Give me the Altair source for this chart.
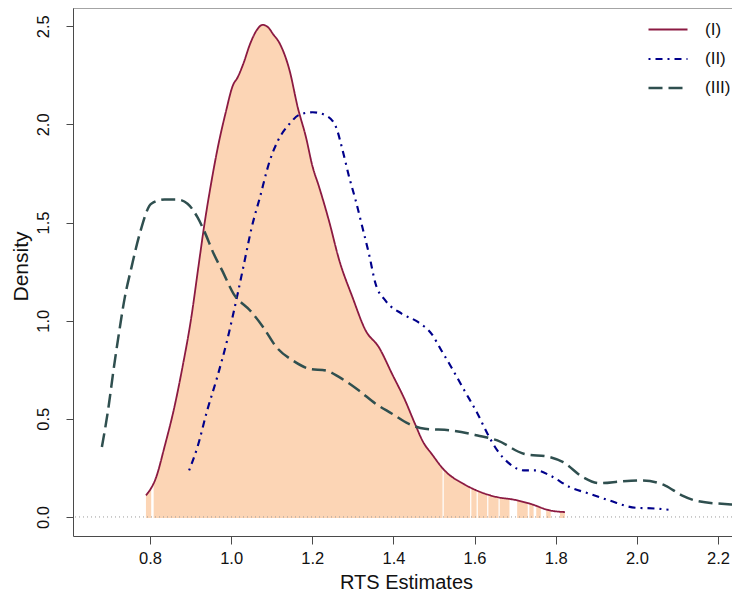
import altair as alt
import pandas as pd

# ---- data ----
series_names = ["(I)", "(II)", "(III)"]

x_I = [0.790, 0.8153, 0.8356, 0.860, 0.880, 0.9006, 0.921, 0.933, 0.949, 0.9656,
       0.9858, 1.006, 1.014, 1.030, 1.0467, 1.063, 1.0776, 1.091, 1.103, 1.120,
       1.144, 1.164, 1.185, 1.200, 1.217, 1.241, 1.2666, 1.299, 1.3315, 1.364,
       1.3966, 1.429, 1.453, 1.4735, 1.494, 1.526, 1.575, 1.6157, 1.656, 1.697,
       1.7375, 1.786, 1.8227]
d_I = [0.110, 0.203, 0.356, 0.559, 0.763, 1.001, 1.300, 1.476, 1.680, 1.867,
       2.054, 2.207, 2.232, 2.309, 2.410, 2.480, 2.507, 2.495, 2.461, 2.411,
       2.275, 2.088, 1.930, 1.790, 1.680, 1.510, 1.307, 1.120, 0.950, 0.865,
       0.729, 0.593, 0.475, 0.381, 0.322, 0.237, 0.166, 0.126, 0.101, 0.088,
       0.067, 0.033, 0.025]

x_II = [0.8964, 0.9169, 0.941, 0.9656, 0.990, 1.0143, 1.030, 1.0508, 1.071, 1.0954,
        1.1156, 1.144, 1.168, 1.2008, 1.234, 1.2585, 1.2748, 1.291, 1.307, 1.3235,
        1.3396, 1.356, 1.380, 1.421, 1.4613, 1.494, 1.5183, 1.5427, 1.575, 1.6074,
        1.6318, 1.656, 1.6887, 1.7211, 1.7535, 1.786, 1.835, 1.8835, 1.932, 1.997,
        2.0457, 2.078]
d_II = [0.237, 0.356, 0.543, 0.712, 0.899, 1.120, 1.273, 1.476, 1.629, 1.816,
        1.918, 2.003, 2.049, 2.062, 2.045, 1.986, 1.867, 1.731, 1.612, 1.476,
        1.341, 1.188, 1.103, 1.035, 0.992, 0.933, 0.848, 0.763, 0.644, 0.526,
        0.424, 0.339, 0.267, 0.237, 0.237, 0.211, 0.152, 0.118, 0.084, 0.047,
        0.043, 0.037]

x_III = [0.6814, 0.6977, 0.7099, 0.722, 0.738, 0.7545, 0.7747, 0.8032, 0.8356, 0.868,
         0.8925, 0.9169, 0.933, 0.957, 0.9777, 1.006, 1.0467, 1.079, 1.1117, 1.152,
         1.1927, 1.234, 1.2666, 1.315, 1.356, 1.3966, 1.437, 1.4776, 1.5427, 1.6074,
         1.656, 1.7211, 1.786, 1.8185, 1.867, 1.908, 1.9646, 2.013, 2.070, 2.1107,
         2.1514, 2.2325, 2.2400]
d_III = [0.356, 0.559, 0.746, 0.916, 1.120, 1.273, 1.443, 1.596, 1.617, 1.617,
         1.596, 1.527, 1.460, 1.341, 1.256, 1.137, 1.052, 0.967, 0.865, 0.797,
         0.755, 0.746, 0.712, 0.644, 0.577, 0.526, 0.475, 0.449, 0.441, 0.415,
         0.390, 0.322, 0.305, 0.279, 0.203, 0.172, 0.182, 0.186, 0.160, 0.110,
         0.080, 0.064, 0.063]

# white gaps in the shaded rug-like fill under (I)
gap_start = [0.803, 1.521, 1.589, 1.605, 1.631, 1.659, 1.686, 1.731, 1.7455, 1.7633, 1.7876]
gap_end   = [0.809, 1.524, 1.592, 1.608, 1.634, 1.662, 1.705, 1.735, 1.752, 1.7764, 1.8105]

x_ticks = [0.8, 1.0, 1.2, 1.4, 1.6, 1.8, 2.0, 2.2]
y_ticks = [0.0, 0.5, 1.0, 1.5, 2.0, 2.5]

# ---- styles ----
FONT = "Liberation Sans"
FILL = "#FCD5B5"
colors = ["#8B1A42", "#00008B", "#2F4F4F"]
dashes = [[1, 0], [2, 5, 7, 5], [14, 6]]
widths = [1.8, 2.5, 2.5]
AXIS_COL = "#4a4a4a"

rows = []
for name, xs, ds in zip(series_names, [x_I, x_II, x_III], [d_I, d_II, d_III]):
    for i, (xv, dv) in enumerate(zip(xs, ds)):
        rows.append({"series": name, "x": xv, "d": dv, "i": i})
lines_df = pd.DataFrame(rows)
fill_df = pd.DataFrame({"x": x_I, "d": d_I, "base": [-0.005] * len(x_I)})
gap_df = pd.DataFrame({"g0": gap_start, "g1": gap_end,
                       "lo": [-0.012] * len(gap_start), "hi": [0.6] * len(gap_start)})
zero_df = pd.DataFrame({"y": [0.0]})

xscale = alt.Scale(domain=[0.6102, 2.2345], nice=False, zero=False)
yscale = alt.Scale(domain=[-0.097, 2.593], nice=False, zero=False)

x_axis = alt.Axis(values=x_ticks, format=".1f", title="RTS Estimates", grid=False,
                  labelFontSize=16.5, titleFontSize=20, tickSize=8, labelPadding=6,
                  titleBaseline="alphabetic", titleY=52, titleX=333, titleFontWeight="normal",
                  domainColor=AXIS_COL, tickColor=AXIS_COL, labelColor="#111",
                  titleColor="#111", labelFont=FONT, titleFont=FONT)
y_axis = alt.Axis(values=y_ticks, format=".1f", title="Density", grid=False,
                  labelFontSize=16.5, titleFontSize=21, tickSize=7, labelPadding=18,
                  labelAngle=270, labelAlign="center", labelBaseline="alphabetic",
                  titleAngle=270, titleAlign="center", titleBaseline="alphabetic",
                  titleX=-46, titleY=258, titleFontWeight="normal",
                  domainColor=AXIS_COL, tickColor=AXIS_COL, labelColor="#111",
                  titleColor="#111", labelFont=FONT, titleFont=FONT)

legend = alt.Legend(orient="none", legendX=574, legendY=1,
                    symbolType="stroke", symbolSize=1521, symbolStrokeWidth=2.5,
                    labelFontSize=17, labelFont=FONT, labelColor="#111",
                    labelOffset=16, rowPadding=-20, padding=0)

fill = alt.Chart(fill_df).mark_area(color=FILL, interpolate="monotone").encode(
    x=alt.X("x:Q", scale=xscale, axis=x_axis),
    y=alt.Y("d:Q", scale=yscale, axis=y_axis),
    y2="base:Q",
)

gaps = alt.Chart(gap_df).mark_rect(color="white").encode(
    x=alt.X("g0:Q", scale=xscale),
    x2="g1:Q",
    y=alt.Y("lo:Q", scale=yscale),
    y2="hi:Q",
)

zero = alt.Chart(zero_df).mark_rule(color="#9a9a9a", strokeDash=[1, 3], strokeWidth=1).encode(
    y=alt.Y("y:Q", scale=yscale)
)

top_border = alt.Chart(zero_df).mark_rule(color=AXIS_COL, strokeWidth=1).encode(
    y=alt.value(0)
)

lines = alt.Chart(lines_df).mark_line(interpolate="monotone", clip=True).encode(
    x=alt.X("x:Q", scale=xscale),
    y=alt.Y("d:Q", scale=yscale),
    order="i:Q",
    color=alt.Color("series:N", title=None, legend=legend,
                    scale=alt.Scale(domain=series_names, range=colors)),
    strokeDash=alt.StrokeDash("series:N", title=None, legend=legend,
                              scale=alt.Scale(domain=series_names, range=dashes)),
    strokeWidth=alt.StrokeWidth("series:N", legend=None,
                                scale=alt.Scale(domain=series_names, range=widths)),
)

chart = alt.layer(fill, gaps, zero, lines, top_border).properties(
    width=659, height=528,
    autosize=alt.AutoSizeParams(type="none"),
    padding={"left": 65, "top": 0, "right": 0, "bottom": 55},
).configure_view(
    stroke="transparent"
)

chart.save("out.html", embed_options={"renderer": "svg", "actions": False})
